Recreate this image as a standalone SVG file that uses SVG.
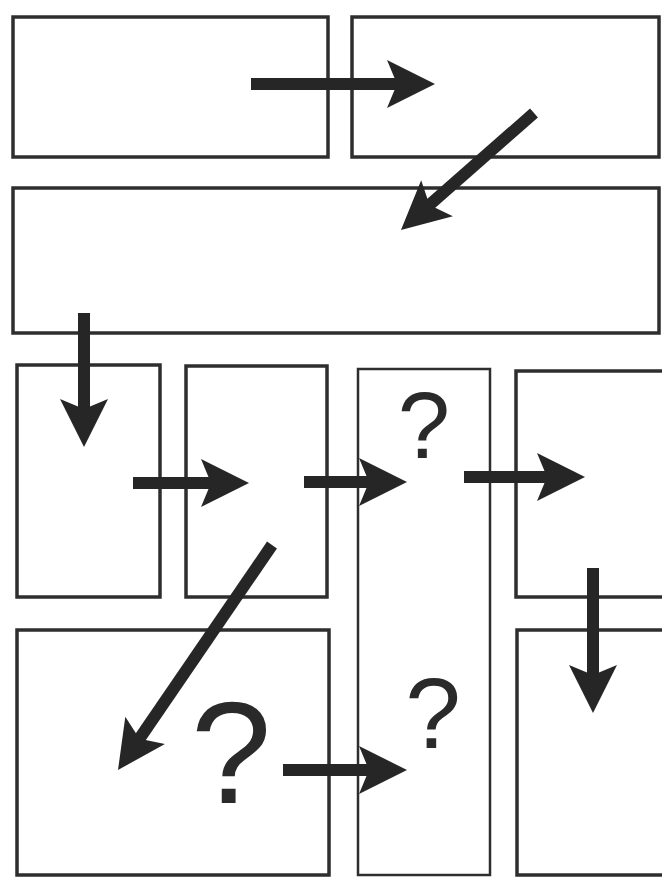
<svg xmlns="http://www.w3.org/2000/svg" width="662" height="880" viewBox="0 0 662 880">
<style>
.panel{fill:#fff;stroke:#2e2e2e;stroke-width:3.5}
.thin{stroke-width:2.5}
.arr{fill:none;stroke:#262626;stroke-width:12;stroke-linecap:butt}
.q{font-family:"Liberation Sans",Arial,sans-serif;fill:#2a2a2a;text-anchor:middle}
</style>
<defs>
<marker id="head" markerUnits="userSpaceOnUse" viewBox="-30 -26 52 52" refX="0" refY="0" markerWidth="52" markerHeight="52" orient="auto" overflow="visible">
<path d="M20,0 L-28,-24 L-18,0 L-28,24 Z" fill="#262626"/>
</marker>
</defs>
<rect width="662" height="880" fill="#fff"/>
<g id="panel1"><rect class="panel" x="13" y="17" width="315" height="140"/></g>
<g id="panel2"><rect class="panel" x="352" y="17" width="307" height="140"/></g>
<g id="panel3"><rect class="panel" x="13" y="188" width="646" height="145"/></g>
<g id="panelA"><rect class="panel" x="17" y="365" width="143" height="232"/></g>
<g id="panelB"><rect class="panel" x="186" y="366" width="141" height="231"/></g>
<g id="panelC"><rect class="panel thin" x="358" y="369" width="132" height="506"/>
<text class="q" x="424" y="458" font-size="94">?</text>
<text class="q" x="433" y="748" font-size="100">?</text></g>
<g id="panelD"><rect class="panel" x="516" y="371" width="152" height="226"/></g>
<g id="panelE"><rect class="panel" x="17" y="630" width="312" height="245"/>
<text class="q" x="231" y="803" font-size="145">?</text></g>
<g id="panelF"><rect class="panel" x="517" y="630" width="152" height="245"/></g>
<g id="connectors">
<line class="arr" x1="251" y1="84" x2="415" y2="84" marker-end="url(#head)" stroke-width="13"/>
<line class="arr" x1="534" y1="113" x2="416" y2="216.8" marker-end="url(#head)" stroke-width="11"/>
<line class="arr" x1="84" y1="313" x2="84" y2="427" marker-end="url(#head)"/>
<line class="arr" x1="133" y1="483" x2="229" y2="483" marker-end="url(#head)"/>
<line class="arr" x1="304" y1="482" x2="387" y2="482" marker-end="url(#head)"/>
<line class="arr" x1="464" y1="477" x2="565" y2="477" marker-end="url(#head)"/>
<line class="arr" x1="593" y1="568" x2="593" y2="693" marker-end="url(#head)"/>
<line class="arr" x1="272" y1="545" x2="129.3" y2="753.5" marker-end="url(#head)" stroke-width="10"/>
<line class="arr" x1="283" y1="770" x2="387" y2="770" marker-end="url(#head)"/>
</g>
</svg>
